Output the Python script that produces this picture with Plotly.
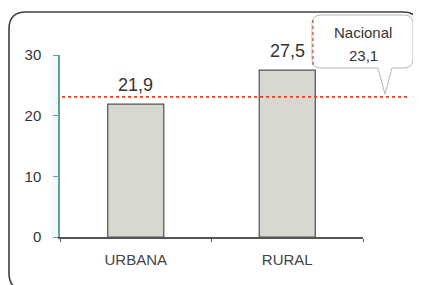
import plotly.graph_objects as go

categories = ["URBANA", "RURAL"]
values = [21.9, 27.5]
nacional = 23.1
nacional_label = "Nacional"
y_ticks = [0, 10, 20, 30]

# page has an 8px body margin; reference pixel coords are page coords
OFF = 8
W, H = 421 - OFF, 285 - OFF
ML, MR, MT, MB = 60 - OFF, 58, 55 - OFF, 48
PW, PH = W - ML - MR, H - MT - MB


def px(x):
    return (x - OFF - ML) / PW


def py(y):
    return (H - MB - (y - OFF)) / PH


def fmt(v):
    return f"{v:.1f}".replace(".", ",")


FONT = "Liberation Sans, Arial"

fig = go.Figure()
fig.add_trace(go.Bar(
    x=categories, y=values, width=0.37,
    marker=dict(color="#d8d8d0", line=dict(color="#505050", width=1.2)),
    hoverinfo="skip",
))

for c, v in zip(categories, values):
    fig.add_annotation(
        x=c, y=v, xref="x", yref="y", text=fmt(v), showarrow=False,
        xanchor="center", yanchor="bottom", yshift=7,
        font=dict(size=18, color="#333333", family=FONT),
    )


def callout(x0, y0, x1, y1, r, pa, pb, tip):
    pts = [
        f"M{px(x0 + r)},{py(y0)}",
        f"L{px(x1 - r)},{py(y0)}",
        f"Q{px(x1)},{py(y0)} {px(x1)},{py(y0 + r)}",
        f"L{px(x1)},{py(y1 - r)}",
        f"Q{px(x1)},{py(y1)} {px(x1 - r)},{py(y1)}",
        f"L{px(pb)},{py(y1)}",
        f"L{px(tip[0])},{py(tip[1])}",
        f"L{px(pa)},{py(y1)}",
        f"L{px(x0 + r)},{py(y1)}",
        f"Q{px(x0)},{py(y1)} {px(x0)},{py(y1 - r)}",
        f"L{px(x0)},{py(y0 + r)}",
        f"Q{px(x0)},{py(y0)} {px(x0 + r)},{py(y0)}",
        "Z",
    ]
    return " ".join(pts)


def rounded_rect(x0, y0, x1, y1, r):
    pts = [
        f"M{px(x0 + r)},{py(y0)}",
        f"L{px(x1 - r)},{py(y0)}",
        f"Q{px(x1)},{py(y0)} {px(x1)},{py(y0 + r)}",
        f"L{px(x1)},{py(y1 - r)}",
        f"Q{px(x1)},{py(y1)} {px(x1 - r)},{py(y1)}",
        f"L{px(x0 + r)},{py(y1)}",
        f"Q{px(x0)},{py(y1)} {px(x0)},{py(y1 - r)}",
        f"L{px(x0)},{py(y0 + r)}",
        f"Q{px(x0)},{py(y0)} {px(x0 + r)},{py(y0)}",
        "Z",
    ]
    return " ".join(pts)


shapes = [
    dict(type="path", xref="paper", yref="paper",
         path=rounded_rect(9, 12, 420, 290, 17),
         line=dict(color="#404040", width=1.6), layer="below"),
    # faint cyan shading left of the y axis
    dict(type="rect", xref="paper", yref="paper", x0=px(51), x1=px(60),
         y0=0, y1=1, line=dict(width=0), fillcolor="#effafa", layer="below"),
    dict(type="line", xref="paper", yref="y", x0=px(62), x1=px(408),
         y0=nacional, y1=nacional,
         line=dict(color="#e0442a", width=1.6, dash="dot")),
    dict(type="path", xref="paper", yref="paper",
         path=callout(312, 15, 413, 68, 9, 378, 392, (385, 94)),
         line=dict(color="#b8b8b8", width=1), fillcolor="white"),
    dict(type="line", xref="paper", yref="paper", x0=px(313), x1=px(313),
         y0=py(20), y1=py(65),
         line=dict(color="#e0442a", width=1.2, dash="dot")),
]

fig.add_annotation(
    xref="paper", yref="paper", x=px(363), y=py(32), text=nacional_label,
    showarrow=False, xanchor="center", yanchor="middle",
    font=dict(size=15, color="#333333", family=FONT),
)
fig.add_annotation(
    xref="paper", yref="paper", x=px(363), y=py(55), text=fmt(nacional),
    showarrow=False, xanchor="center", yanchor="middle",
    font=dict(size=15, color="#333333", family=FONT),
)

fig.update_layout(
    width=W, height=H,
    margin=dict(l=ML, r=MR, t=MT, b=MB, pad=0),
    paper_bgcolor="white", plot_bgcolor="white",
    showlegend=False, separators=",.",
    shapes=shapes,
    font=dict(family=FONT, color="#333333"),
)
fig.update_yaxes(
    range=[0, 30], tickvals=y_ticks, showgrid=False, zeroline=False,
    showline=True, linecolor="#6a9c9c", linewidth=1.5,
    ticks="outside", ticklen=5, tickcolor="#6a9c9c",
    tickfont=dict(size=15, color="#333333", family=FONT), ticklabelstandoff=9,
)
fig.update_xaxes(
    showgrid=False, showline=True, linecolor="#555555", linewidth=1.5,
    ticks="outside", ticklen=3, tickcolor="#555555", tickson="boundaries",
    tickfont=dict(size=15, color="#444444", family=FONT), ticklabelstandoff=8,
)

fig.write_html("out.html")
